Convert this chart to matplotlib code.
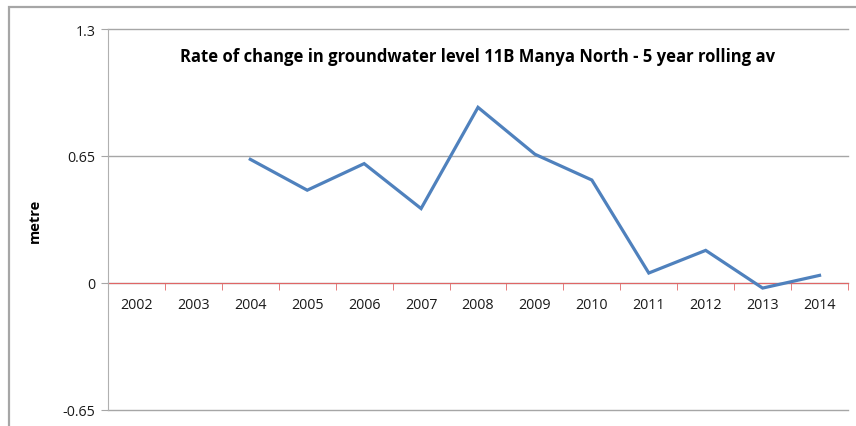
import matplotlib
matplotlib.use("Agg")
import matplotlib.pyplot as plt
from matplotlib.patches import Rectangle
import numpy as np

years = ["2002", "2003", "2004", "2005", "2006", "2007", "2008",
         "2009", "2010", "2011", "2012", "2013", "2014"]
values = [None, None, 0.633, 0.475, 0.611, 0.381, 0.899,
          0.659, 0.527, 0.051, 0.167, -0.026, 0.039]
yticks = [-0.65, 0, 0.65, 1.3]
ytick_labels = ["-0.65", "0", "0.65", "1.3"]
title = "Rate of change in groundwater level 11B Manya North - 5 year rolling av"

plt.rcParams['font.family'] = ['Open Sans', 'DejaVu Sans']

fig = plt.figure(figsize=(8.56, 4.27), dpi=100)
fig.patch.set_facecolor("white")

# outer chart frame (clipped at right/bottom)
fig.add_artist(Rectangle((9/856, -0.1), 1.2, 1 - 8/427 + 0.1, transform=fig.transFigure,
                         fill=False, edgecolor="#a6a6a6", linewidth=1.6))

ax = fig.add_axes([108/856, 1 - 411/427, (848 - 108)/856, (411 - 30)/427])
x = np.arange(len(years))
yv = np.array([np.nan if v is None else v for v in values], dtype=float)
ax.plot(x, yv, color="#4F81BD", linewidth=2.3, solid_joinstyle="miter", zorder=3)

ax.set_xlim(-0.5, len(years) - 0.5)
ax.set_ylim(-0.65, 1.3)
ax.set_yticks(yticks)
ax.set_yticklabels(ytick_labels)
ax.yaxis.grid(True, color="#a6a6a6", linewidth=1.0)
for gl in ax.get_ygridlines():
    gl.set_clip_on(False)
ax.set_axisbelow(True)

for s in ["top", "right"]:
    ax.spines[s].set_visible(False)
ax.spines["left"].set_color("#b0b0b0")
ax.spines["bottom"].set_position(("data", 0))
ax.spines["bottom"].set_color("#e06666")
ax.spines["bottom"].set_zorder(2)

ax.set_xticks(x)
ax.set_xticklabels(years)
ax.set_xticks(np.arange(-0.5, len(years), 1), minor=True)
ax.tick_params(axis="x", which="major", length=0, pad=10, labelsize=10.3, colors="#1a1a1a")
ax.tick_params(axis="x", which="minor", length=5, color="#e06666", direction="out")
ax.tick_params(axis="y", length=5, color="#a6a6a6", labelsize=10.3, labelcolor="#1a1a1a", pad=4)

ax.set_ylabel("metre", fontsize=10.5, fontweight="bold", labelpad=0)
ax.yaxis.set_label_coords(-(108 - 42) / 740, 0.5)

ax.text(0.5, 1 - (57 - 30) / 381, title, transform=ax.transAxes, ha="center", va="center",
        fontsize=12, fontweight="bold", color="#000000")

fig.savefig("out.png", dpi=100)
